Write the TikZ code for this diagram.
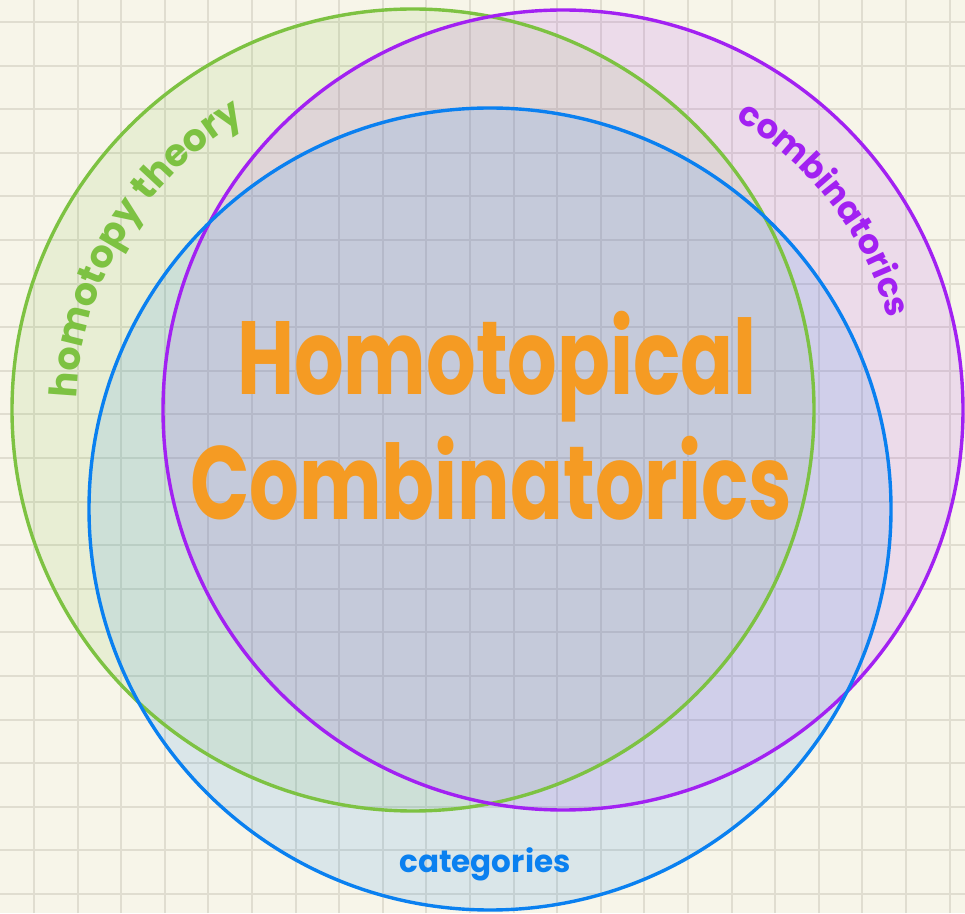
\documentclass[tikz,border=0pt]{standalone}
\usepackage{fontspec}
\setmainfont{Poppins}
\usetikzlibrary{decorations.text}

\definecolor{paper}{HTML}{F7F5E9}
\definecolor{gridline}{HTML}{E0DDD0}
\definecolor{htgreen}{HTML}{7DC242}
\definecolor{cmpurple}{HTML}{A221F2}
\definecolor{ctblue}{HTML}{0A80F0}
\definecolor{hcorange}{HTML}{F59B23}

\begin{document}
\begin{tikzpicture}[
    x=1pt, y=1pt,
    gridln/.style={gridline, line width=2pt}, % Style for the paper grid
    rim/.style={line width=3.4pt},             % Circle outlines
    area/.style={fill opacity=0.12},           % Light circle fills
    % Style for writing a label along a circular arc
    arclabel/.style={
        decorate,
        decoration={text along path, text align=center, text color=#1}
    },
    bigtitle/.style={hcorange, font=\fontsize{104}{110}\selectfont\bfseries, xscale=0.75}
]

    % Paper and grid
    \fill[paper] (0,0) rectangle (965,913);
    \useasboundingbox (0,0) rectangle (965,913);
    \foreach \i in {0,...,21} \draw[gridln] ({34+43.6*\i},0) -- ({34+43.6*\i},913);
    \foreach \j in {0,...,20} \draw[gridln] (0,{891-43.6*\j}) -- (965,{891-43.6*\j});

    % Circle centres
    \coordinate (HT) at (413,503); % homotopy theory
    \coordinate (CM) at (563,503); % combinatorics
    \coordinate (CT) at (490,404); % categories

    % Fills first, then outlines
    \fill[htgreen, area] (HT) circle[radius=401pt];
    \fill[cmpurple, area] (CM) circle[radius=400pt];
    \fill[ctblue, area] (CT) circle[radius=401pt];
    \draw[htgreen, rim] (HT) circle[radius=401pt];
    \draw[cmpurple, rim] (CM) circle[radius=400pt];
    \draw[ctblue, rim] (CT) circle[radius=401pt];

    % Labels along the arcs
    \path[decoration={text={|\fontsize{38}{40}\selectfont\bfseries|homotopy theory}}]
        [arclabel=htgreen] (HT) ++(200:336pt) arc[start angle=200, end angle=98, radius=336pt];
    \path[decoration={text={|\fontsize{34}{36}\selectfont\bfseries|combinatorics}}]
        [arclabel=cmpurple] (CM) ++(80:338pt) arc[start angle=80, end angle=-5, radius=338pt];

    % Categories label
    \node[ctblue, anchor=base, font=\fontsize{31}{33}\selectfont\bfseries] (cat) at (485,41) {categories};

    % Title
    \node[bigtitle, anchor=base] (top) at (497,518) {Homotopical};
    \node[bigtitle, anchor=base] (bot) at (491,393) {Combinatorics};

\end{tikzpicture}
\end{document}
